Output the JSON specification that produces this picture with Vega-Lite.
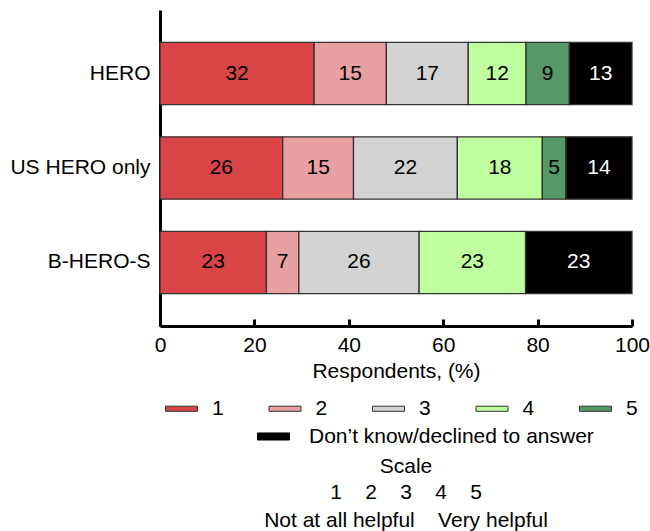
{
  "$schema": "https://vega.github.io/schema/vega-lite/v6.json",
  "width": 472,
  "height": 316,
  "autosize": {"type": "none"},
  "padding": {"left": 160, "top": 10, "right": 18, "bottom": 205},
  "config": {
    "font": "Liberation Sans",
    "view": {"stroke": null},
    "axis": {
      "labelFont": "Liberation Sans", "titleFont": "Liberation Sans",
      "labelFontSize": 21, "titleFontSize": 21, "titleFontWeight": "normal",
      "labelColor": "black", "titleColor": "black",
      "domainColor": "black", "domainWidth": 3,
      "tickColor": "black", "tickWidth": 3, "grid": false
    },
    "axisX": {"tickSize": -7, "labelPadding": 15, "titlePadding": 5, "labelFlush": false},
    "axisY": {"ticks": false, "labelPadding": 10},
    "legend": {
      "labelFont": "Liberation Sans", "labelFontSize": 21, "labelColor": "black",
      "symbolStrokeColor": "#333", "symbolStrokeWidth": 1, "labelLimit": 500
    }
  },
  "data": {
    "values": [
      {"group": "HERO", "cat": "1", "value": 32},
      {"group": "HERO", "cat": "2", "value": 15},
      {"group": "HERO", "cat": "3", "value": 17},
      {"group": "HERO", "cat": "4", "value": 12},
      {"group": "HERO", "cat": "5", "value": 9},
      {"group": "HERO", "cat": "Don’t know/declined to answer", "value": 13},
      {"group": "US HERO only", "cat": "1", "value": 26},
      {"group": "US HERO only", "cat": "2", "value": 15},
      {"group": "US HERO only", "cat": "3", "value": 22},
      {"group": "US HERO only", "cat": "4", "value": 18},
      {"group": "US HERO only", "cat": "5", "value": 5},
      {"group": "US HERO only", "cat": "Don’t know/declined to answer", "value": 14},
      {"group": "B-HERO-S", "cat": "1", "value": 23},
      {"group": "B-HERO-S", "cat": "2", "value": 7},
      {"group": "B-HERO-S", "cat": "3", "value": 26},
      {"group": "B-HERO-S", "cat": "4", "value": 23},
      {"group": "B-HERO-S", "cat": "Don’t know/declined to answer", "value": 23}
    ]
  },
  "title": {
    "text": "Scale",
    "subtitle": ["1\u00a0\u00a0\u00a0\u00a02\u00a0\u00a0\u00a0\u00a03\u00a0\u00a0\u00a0\u00a04\u00a0\u00a0\u00a0\u00a05", "Not at all helpful\u00a0\u00a0\u00a0\u00a0Very helpful"],
    "orient": "bottom",
    "anchor": "middle",
    "font": "Liberation Sans", "subtitleFont": "Liberation Sans",
    "fontSize": 21, "subtitleFontSize": 21,
    "fontWeight": "normal",
    "color": "black", "subtitleColor": "black",
    "subtitleLineHeight": 28, "subtitlePadding": 5,
    "offset": 9,
    "dx": 10
  },
  "encoding": {
    "y": {
      "field": "group", "type": "nominal",
      "sort": ["HERO", "US HERO only", "B-HERO-S"],
      "scale": {"paddingInner": 0.34, "paddingOuter": 0.342},
      "title": null
    }
  },
  "layer": [
    {
      "transform": [
        {"stack": "value", "groupby": ["group"], "sort": [{"field": "cat", "order": "ascending"}], "offset": "normalize", "as": ["x0", "x1"]},
        {"filter": "datum.cat !== 'Don’t know/declined to answer'"}
      ],
      "mark": {"type": "bar", "stroke": "#333", "strokeWidth": 1.3},
      "encoding": {
        "x": {
          "field": "x0", "type": "quantitative",
          "scale": {"domain": [0, 1], "nice": false},
          "title": "Respondents, (%)",
          "axis": {"values": [0, 0.2, 0.4, 0.6, 0.8, 1], "labelExpr": "format(datum.value*100, 'd')"}
        },
        "x2": {"field": "x1"},
        "color": {
          "field": "cat", "type": "nominal",
          "scale": {"domain": ["1", "2", "3", "4", "5"], "range": ["#d94447", "#e8a0a2", "#d3d3d3", "#c0ffa0", "#579966"]},
          "legend": {
            "title": null, "orient": "none", "legendX": 5, "legendY": 382,
            "direction": "horizontal", "columns": 5, "columnPadding": 42.5, "gridAlign": "all",
            "symbolType": "M-1,-0.16H1V0.16H-1Z", "symbolSize": 1024, "labelOffset": 14
          }
        }
      }
    },
    {
      "transform": [
        {"stack": "value", "groupby": ["group"], "sort": [{"field": "cat", "order": "ascending"}], "offset": "normalize", "as": ["x0", "x1"]},
        {"filter": "datum.cat === 'Don’t know/declined to answer'"}
      ],
      "mark": {"type": "bar", "stroke": "#333", "strokeWidth": 1.3},
      "encoding": {
        "x": {"field": "x0", "type": "quantitative", "scale": {"domain": [0, 1], "nice": false}, "title": "Respondents, (%)"},
        "x2": {"field": "x1"},
        "color": {
          "field": "cat", "type": "nominal",
          "scale": {"domain": ["Don’t know/declined to answer"], "range": ["black"]},
          "legend": {
            "title": null, "orient": "none", "legendX": 97, "legendY": 410,
            "symbolType": "M-1,-0.22H1V0.22H-1Z", "symbolSize": 1024, "labelOffset": 19,
            "symbolStrokeColor": "black"
          }
        }
      }
    },
    {
      "mark": {"type": "text", "fontSize": 21, "font": "Liberation Sans"},
      "encoding": {
        "x": {"field": "value", "type": "quantitative", "stack": "normalize", "bandPosition": 0.5, "scale": {"domain": [0, 1], "nice": false}, "title": "Respondents, (%)"},
        "detail": {"field": "cat"},
        "order": {"field": "cat", "type": "ordinal"},
        "text": {"field": "value", "type": "quantitative"},
        "color": {
          "condition": {"test": "datum.cat === 'Don’t know/declined to answer'", "value": "white"},
          "value": "black"
        }
      }
    }
  ],
  "resolve": {"scale": {"color": "independent"}}
}
